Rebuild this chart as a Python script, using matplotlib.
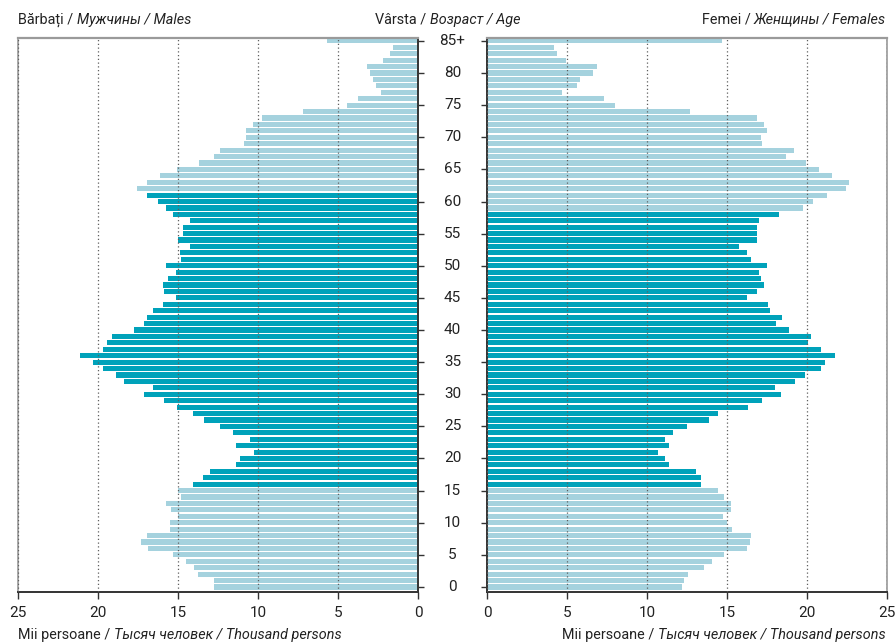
import numpy as np
import matplotlib.pyplot as plt
from matplotlib.transforms import blended_transform_factory

plt.rcParams['font.family'] = ['Roboto', 'DejaVu Sans']

# age groups 0..85+ (one bar each)
ages = list(range(86))
age_ticks = list(range(0, 86, 5))
age_tick_labels = [str(a) for a in age_ticks[:-1]] + ['85+']

# thousand persons (index = age)
males = [12.75, 12.75, 13.73, 14.00, 14.52, 15.33, 16.85, 17.29, 16.94, 15.52,
         15.52, 14.98, 15.42, 15.77, 14.79, 14.98, 14.08, 13.44, 13.02, 11.40,
         11.13, 10.25, 11.40, 10.52, 11.58, 12.38, 13.38, 14.08, 15.06, 15.88,
         17.13, 16.58, 18.35, 18.88, 19.69, 20.29, 21.13, 19.69, 19.42, 19.15,
         17.75, 17.13, 16.94, 16.58, 15.96, 15.15, 15.88, 15.96, 15.60, 15.15,
         15.77, 14.79, 14.90, 14.27, 14.98, 14.71, 14.71, 14.27, 15.31, 15.77,
         16.23, 16.94, 17.56, 16.94, 16.13, 15.06, 13.71, 12.73, 12.38, 10.85,
         10.77, 10.77, 10.31, 9.77, 7.19, 4.44, 3.73, 2.29, 2.65, 2.83,
         3.02, 3.19, 2.19, 1.77, 1.56, 5.69]

females = [12.18, 12.29, 12.58, 13.56, 14.05, 14.84, 16.22, 16.42, 16.53, 15.32,
           15.03, 14.74, 15.22, 15.22, 14.84, 14.45, 13.37, 13.37, 13.06, 11.39,
           11.12, 10.71, 11.39, 11.12, 11.60, 12.49, 13.87, 14.45, 16.32, 17.19,
           18.38, 17.98, 19.27, 19.85, 20.85, 21.15, 21.73, 20.85, 20.06, 20.25,
           18.86, 18.09, 18.46, 17.69, 17.59, 16.22, 16.90, 17.30, 17.11, 17.00,
           17.50, 16.53, 16.22, 15.74, 16.90, 16.90, 16.90, 17.00, 18.27, 19.75,
           20.35, 21.23, 22.42, 22.60, 21.54, 20.75, 19.96, 18.67, 19.17, 17.19,
           17.11, 17.50, 17.30, 16.90, 12.68, 7.98, 7.30, 4.66, 5.61, 5.82,
           6.61, 6.90, 4.95, 4.35, 4.16, 14.66]

# working-age ranges (darker bars)
male_work = (16, 61)
female_work = (16, 58)

x_ticks = [0, 5, 10, 15, 20, 25]

LIGHT = '#a5d2de'
DARK = '#00a2ba'
GRID = '#5f5f5f'
FRAME = '#9a9a9a'
AXIS = '#333333'

W, H = 896, 643
fig = plt.figure(figsize=(W / 100, H / 100), dpi=100)

ax_l = fig.add_axes([18 / W, 1 - 592 / H, 400 / W, 554 / H])
ax_r = fig.add_axes([487 / W, 1 - 592 / H, 400 / W, 554 / H])


def colors_for(rng):
    return [DARK if rng[0] <= a <= rng[1] else LIGHT for a in ages]


ax_l.barh(ages, males, height=0.8, color=colors_for(male_work), linewidth=0)
ax_r.barh(ages, females, height=0.8, color=colors_for(female_work), linewidth=0)

ax_l.set_xlim(25, 0)
ax_r.set_xlim(0, 25)

for ax, inner, outer in [(ax_l, 'right', 'left'), (ax_r, 'left', 'right')]:
    ax.set_ylim(-0.78, 85.45)
    ax.set_yticks(age_ticks)
    ax.set_yticklabels([])
    ax.set_xticks(x_ticks)
    ax.set_xticklabels([str(v) for v in x_ticks])
    ax.tick_params(axis='x', direction='out', length=5, width=1, color=AXIS,
                   labelsize=11, pad=5, labelcolor='#222222')
    ax.tick_params(axis='y', direction='out', length=4, width=1, color=AXIS)
    ax.spines['top'].set_color(FRAME)
    ax.spines['top'].set_linewidth(1.6)
    ax.spines[outer].set_color(FRAME)
    ax.spines[outer].set_linewidth(1.2)
    ax.spines[inner].set_color(AXIS)
    ax.spines[inner].set_linewidth(1.4)
    ax.spines['bottom'].set_color(AXIS)
    ax.spines['bottom'].set_linewidth(1.4)
    ax.set_axisbelow(False)
    ax.xaxis.grid(True, linestyle=(0, (1, 2)), color=GRID, linewidth=0.9)

ax_l.yaxis.tick_right()
ax_r.yaxis.tick_left()

# age labels centred in the gap between the panels
trans = blended_transform_factory(fig.transFigure, ax_l.transData)
for a, lab in zip(age_ticks, age_tick_labels):
    fig.text(452.5 / W, a, lab, transform=trans, ha='center', va='center',
             fontsize=11, color='#222222')

renderer = fig.canvas.get_renderer()


def mixed_text(x, y, parts, ha='left', size=10.4):
    items = []
    for s, st in parts:
        t = fig.text(0, y, s, fontstyle=st, fontsize=size, va='baseline',
                     color='#222222')
        items.append((t, t.get_window_extent(renderer).width / W))
    total = sum(w for _, w in items)
    if ha == 'center':
        x -= total / 2
    elif ha == 'right':
        x -= total
    for t, w in items:
        t.set_x(x)
        x += w


mixed_text(18 / W, 1 - 24 / H, [('Bărbați / ', 'normal'), ('Мужчины / Males', 'italic')])
mixed_text(448 / W, 1 - 24 / H, [('Vârsta / ', 'normal'), ('Возраст / Age', 'italic')], ha='center')
mixed_text(886 / W, 1 - 24 / H, [('Femei / ', 'normal'), ('Женщины / Females', 'italic')], ha='right')

unit = [('Mii persoane / ', 'normal'), ('Тысяч человек / Thousand persons', 'italic')]
mixed_text(18 / W, 1 - 639 / H, unit)
mixed_text(886 / W, 1 - 639 / H, unit, ha='right')

fig.savefig('out.png', dpi=100)
